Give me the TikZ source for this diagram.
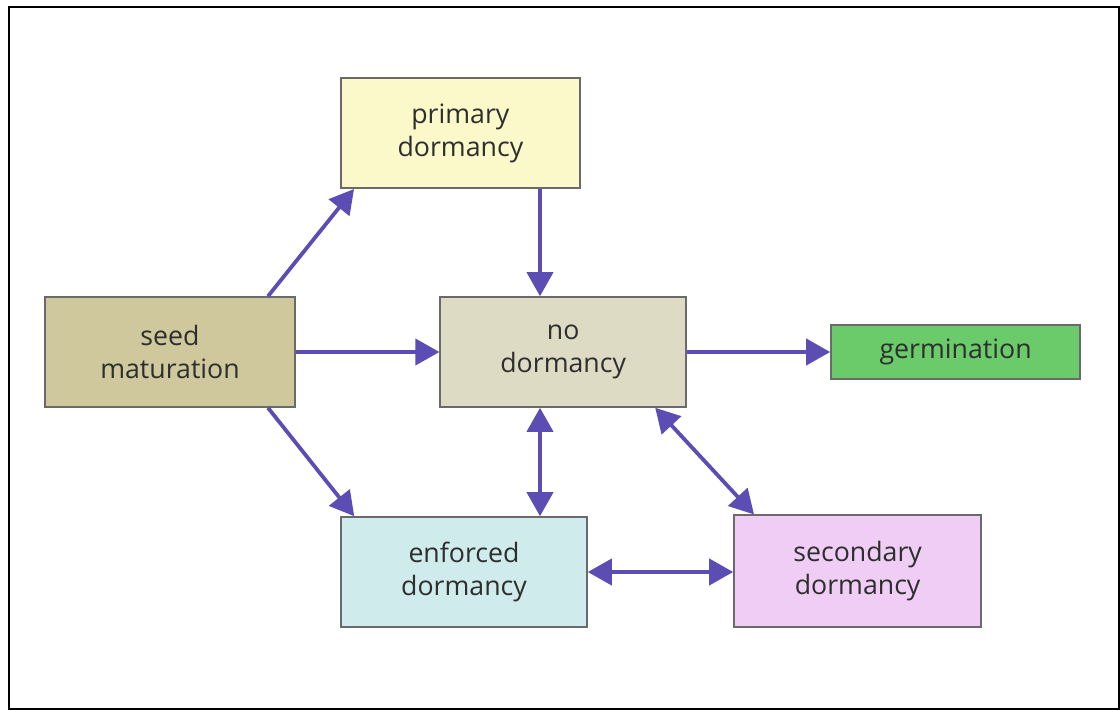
\documentclass[tikz,border=0pt]{standalone}
\usepackage{fontspec}
\setmainfont{Open Sans}
\usepackage{tikz}
\usetikzlibrary{arrows.meta}

\definecolor{flecha}{HTML}{5B4DB3}
\definecolor{borde}{HTML}{6A6A6A}
\definecolor{texto}{HTML}{2E2E2E}
\definecolor{amarillo}{HTML}{FBF8C9}
\definecolor{caqui}{HTML}{CFC89C}
\definecolor{beige}{HTML}{DEDBC4}
\definecolor{verde}{HTML}{6BCB6B}
\definecolor{celeste}{HTML}{CFEBEB}
\definecolor{rosa}{HTML}{EFCDF5}

\tikzset{
  caja/.style={draw=borde, line width=1.1pt, text=texto, align=center,
    minimum width=6.15cm, minimum height=2.75cm, inner sep=0pt,
    font=\fontsize{19}{23.5}\selectfont},
  flechita/.style={draw=flecha, line width=2.7pt,
    -{Triangle[length=6mm,width=6.5mm]}},
  dobleflecha/.style={flechita, {Triangle[length=6mm,width=6.5mm]}-{Triangle[length=6mm,width=6.5mm]}}
}

\begin{document}
\begin{tikzpicture}
    \useasboundingbox (0,0) rectangle (28,-17.75);
    % Marco
    \draw[line width=1pt] (0.23,-0.18) rectangle (27.97,-17.72);

    % Cajas
    \node[caja, fill=amarillo, minimum width=5.98cm] (primaria) at (11.51,-3.33) {primary\\dormancy};
    \node[caja, fill=caqui, minimum width=6.25cm] (semilla) at (4.25,-8.8) {seed\\maturation};
    \node[caja, fill=beige] (nodorm) at (14.08,-8.8) {no\\dormancy};
    \node[caja, fill=verde, minimum width=6.23cm, minimum height=1.35cm] (germ) at (23.89,-8.8) {germination};
    \node[caja, fill=celeste] (forzada) at (11.6,-14.3) {enforced\\dormancy};
    \node[caja, fill=rosa, minimum width=6.18cm, minimum height=2.8cm] (secundaria) at (21.44,-14.28) {secondary\\dormancy};

    % Flechas simples
    \draw[flechita] ([xshift=2.45cm]semilla.north) -- ([xshift=0.35cm]primaria.south west);
    \draw[flechita] ([xshift=2.45cm]semilla.south) -- ([xshift=0.35cm]forzada.north west);
    \draw[flechita] ([xshift=1.99cm]primaria.south) -- ([xshift=-0.58cm]nodorm.north);
    \draw[flechita] (semilla.east) -- (nodorm.west);
    \draw[flechita] (nodorm.east) -- (germ.west);

    % Flechas dobles
    \draw[dobleflecha] ([xshift=-0.58cm]nodorm.south) -- ([xshift=1.9cm]forzada.north);
    \draw[dobleflecha] ([xshift=2.3cm]nodorm.south) -- ([xshift=0.52cm]secundaria.north west);
    \draw[dobleflecha] (forzada.east) -- (secundaria.west |- forzada.east);
\end{tikzpicture}
\end{document}
